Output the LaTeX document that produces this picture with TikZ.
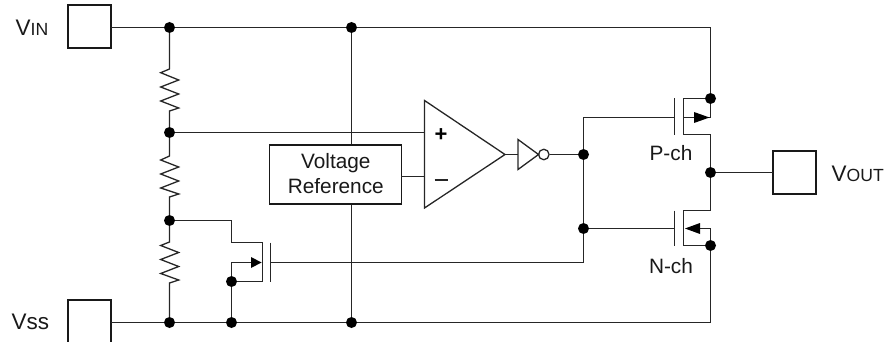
\documentclass[tikz,border=0pt]{standalone}
\usepackage{fontspec}
\setmainfont{Liberation Sans}
\newcommand{\txtbig}{\fontsize{20.8}{24.6}\selectfont}
\newcommand{\txtpin}{\fontsize{22.5}{26}\selectfont}
\newcommand{\txtsmall}{\fontsize{17.6}{20}\selectfont}
\begin{document}
\begin{tikzpicture}[x=1pt,y=-1pt,
  wire/.style={draw=black!85,line width=1.3pt,line join=miter},
  dot/.style={circle,fill=black,inner sep=0pt,minimum size=11pt},
  pad/.style={draw=black!90,line width=1.7pt,fill=white,minimum width=43pt,minimum height=43pt,inner sep=0pt,outer sep=0pt},
  lbl/.style={inner sep=0pt,font=\txtbig,text=black!90},
  pinlbl/.style={inner sep=0pt,font=\txtpin,text=black!90},
  tip/.style={fill=black,draw=none},
  resistor/.style={wire,line join=miter}]
\useasboundingbox (0,0) rectangle (888,342);
% pads
\node[pad] (vin) at (89.5,26.5) {};
\node[pad] (vout) at (794.5,172.5) {};
\begin{scope}
\clip (0,0) rectangle (888,342);
\node[pad,minimum height=60pt] (vss) at (89.5,330) {};
\end{scope}
% labels
\node[pinlbl,anchor=base west] at (15.5,35.7) {V{\txtsmall IN}};
\node[pinlbl,anchor=base west] at (11.5,329) {Vss};
\node[pinlbl,anchor=base west] at (831.5,181.7) {V{\txtsmall OUT}};
\node[lbl,anchor=base] at (671,160.7) {P-ch};
\node[lbl,anchor=base] at (671,273) {N-ch};
% junctions
\node[dot] (j1) at (169.5,27.5) {};
\node[dot] (j2) at (351.5,27.5) {};
\node[dot] (j3) at (169.5,132.5) {};
\node[dot] (j4) at (169.5,220.5) {};
\node[dot] (j5) at (169.5,322.5) {};
\node[dot] (j6) at (231.5,322.5) {};
\node[dot] (j7) at (351.5,322.5) {};
\node[dot] (j8) at (231.5,281.5) {};
\node[dot] (j9) at (583.5,154.5) {};
\node[dot] (j10) at (583.5,228.5) {};
\node[dot] (j11) at (710.5,98.5) {};
\node[dot] (j12) at (710.5,172.5) {};
\node[dot] (j13) at (710.5,245.5) {};
% voltage reference
\node[draw=black!90,line width=1.5pt,fill=white,minimum width=132pt,minimum height=59pt,inner sep=0pt] (ref) at (335.3,174.5) {};
\node[inner sep=0pt,align=center,font=\txtbig,text=black!90] (reftext) at (335.8,173.6) {Voltage\\Reference};
% op amp and inverter
\coordinate (oa1) at (424.5,100.5);
\coordinate (oa2) at (424.5,208);
\coordinate (oa3) at (505,154.5);
\coordinate (inv1) at (518,139.5);
\coordinate (inv2) at (518,169.5);
\coordinate (inv3) at (538.5,154.5);
\node[circle,draw=black!85,line width=1.3pt,fill=white,minimum size=10.5pt,inner sep=0pt] (bub) at (543.8,154.5) {};
\draw[wire] (oa1) -- (oa2) -- (oa3) -- cycle;
\draw[wire] (inv1) -- (inv2) -- (inv3) -- cycle;
\node[inner sep=0pt,font=\bfseries\fontsize{22}{22}\selectfont] (plus) at (441,135) {+};
\draw[wire,line width=1.1pt] (434.5,180) -- (447.5,180);
% wires
\draw[wire] (vin.east |- j1) -- (j1) -- (j2) -| (j11);
\draw[wire] (j2) -- (j2 |- ref.north);
\draw[wire] (j7) -- (j7 |- ref.south);
\draw[wire] (vss.east |- j5) -- (j5) -- (j6) -- (j7) -- (710.5,322.5) -- (j13);
\draw[wire] (j3) -- (424.5,132.5);
\draw[wire] (401,176.5) -- (424.5,176.5);
\draw[wire] (oa3) -- (518,154.5);
\draw[wire] (bub) -- (j9);
% resistors
\draw[resistor] (j1) -- (169.5,69) -- (160.7,72.7) -- (178.7,80) -- (160.7,87) -- (178.7,94) -- (160.7,101) -- (178.7,108) -- (169.5,111) -- (j3);
\draw[resistor] (j3) -- (169.5,156) -- (160.7,160) -- (178.7,167) -- (160.7,174) -- (178.7,181) -- (160.7,188) -- (178.7,194) -- (169.5,197) -- (j4);
\draw[resistor] (j4) -- (169.5,242) -- (160.7,245.5) -- (178.7,252.5) -- (160.7,259.5) -- (178.7,266.5) -- (160.7,273.5) -- (178.7,280) -- (169.5,283) -- (j5);
% P-ch
\draw[wire] (583.5,262.5) -- (j10) -- (j9) -- (583.5,117.5) -- (674.5,117.5);
\draw[wire] (674.5,98.5) -- (674.5,134.5);
\draw[wire] (j11) -- (683.5,98.5) -- (683.5,134.5) -- (710.5,134.5) -- (j12) -- (710.5,210.5) -- (683.5,210.5) -- (683.5,245.5) -- (j13);
\draw[wire] (683.5,117.5) -- (710.5,117.5) -- (j11);
\fill[tip] (709.5,117.5) -- (694,112) -- (694,123) -- cycle;
% N-ch
\draw[wire] (j10) -- (674.5,228.5);
\draw[wire] (674.5,210.5) -- (674.5,245.5);
\draw[wire] (700,228.5) -- (710.5,228.5) -- (j13);
\fill[tip] (685,228.5) -- (700,223) -- (700,234) -- cycle;
% sense FET
\draw[wire] (j4) -- (231.5,220.5) -- (231.5,242.5) -- (262.5,242.5) -- (262.5,281.5) -- (j8);
\draw[wire] (j8) -- (231.5,262.5) -- (252,262.5);
\fill[tip] (261.5,262.5) -- (251,257) -- (251,268) -- cycle;
\draw[wire] (270.5,242.5) -- (270.5,281.5);
\draw[wire] (270.5,262.5) -- (583.5,262.5);
\draw[wire] (j8) -- (j6);
\draw[wire] (j12) -- (vout.west |- j12);
\end{tikzpicture}
\end{document}
